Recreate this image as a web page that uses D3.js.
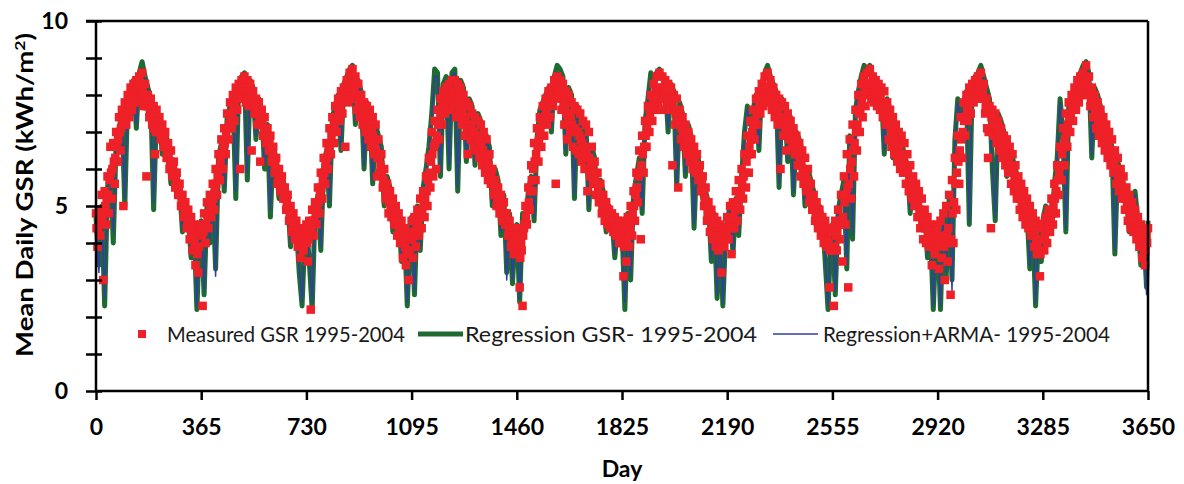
<!DOCTYPE html>
<html>
<head>
<meta charset="utf-8">
<script src="https://cdn.jsdelivr.net/npm/d3@7"></script>
<style>
  body { margin: 0; background: #fff; }
  text { font-family: Lato, "Open Sans", sans-serif; }
</style>
</head>
<body>
<div id="chart"></div>
<script>
// Measured GSR, one row per year, one value every 5 days (doy 0..360); last row also holds day 3650
const measuredGSR = [
  [4.8,3.9,4.9,4.2,5.3,3.0,5.4,4.5,5.8,4.8, 6.6,5.2,6.7,5.6,7.0,6.2,7.4,6.5,7.6,5.0, 7.8,7.2,8.0,7.4,8.2,7.6,8.3,7.8,8.4,7.9, 8.5,8.0,8.6,7.7,8.3,5.8,8.0,7.4,7.9,7.2, 7.7,6.4,7.6,7.0,7.4,6.8,7.2,6.6,7.0,6.3, 6.7,6.0,6.5,5.8,6.2,5.5,5.9,5.3,5.6,5.0, 5.3,4.7,5.1,4.4,4.9,4.1,4.7,3.8,4.5,3.4, 4.3,3.2,4.4],
  [4.5,2.3,4.8,4.0,5.1,4.4,5.3,4.7,5.6,4.9, 6.0,5.3,6.4,5.7,6.8,6.0,7.1,6.4,7.5,6.8, 7.8,7.1,8.0,7.3,8.2,7.6,8.3,6.0,8.4,7.9, 8.5,7.8,8.4,7.7,8.3,6.5,8.1,7.5,7.9,7.2, 7.8,6.2,7.6,6.9,7.4,6.7,7.1,6.5,6.9,6.2, 6.6,5.9,6.3,5.6,6.0,5.4,5.8,5.2,5.5,4.9, 5.3,4.6,5.0,4.3,4.8,4.1,4.6,3.9,4.4,3.6, 4.2,3.8,4.3],
  [4.5,3.5,4.6,2.2,4.9,4.2,5.1,4.5,5.5,4.8, 5.9,5.2,6.3,5.6,6.7,6.0,7.1,6.4,7.4,6.7, 7.7,7.0,7.9,7.3,8.1,7.5,8.2,6.6,8.4,7.8, 8.6,8.0,8.7,7.9,8.5,7.6,8.3,7.4,8.0,7.2, 7.8,7.0,7.7,6.8,7.6,6.6,7.4,6.4,7.2,5.8, 6.8,5.9,6.4,5.5,6.0,5.2,5.6,4.8,5.4,4.7, 5.2,4.5,5.0,4.2,4.8,4.0,4.6,3.6,4.4,3.4, 4.2,3.0,4.3],
  [4.6,3.6,4.7,3.9,4.9,4.2,5.2,4.4,5.4,4.7, 5.8,5.0,6.3,5.5,7.0,5.8,7.3,6.0,7.6,6.8, 7.9,7.2,8.1,7.5,8.2,7.7,8.3,7.6,8.4,7.8, 8.4,7.4,8.3,7.6,8.2,7.2,8.0,6.9,7.8,6.4, 7.7,6.8,7.5,6.6,7.4,6.5,7.3,6.3,7.2,6.1, 7.0,5.9,6.8,5.7,6.4,5.6,6.0,5.3,5.7,5.0, 5.5,4.8,5.3,4.6,5.1,4.5,4.8,4.2,4.6,3.9, 4.4,3.7,4.3],
  [4.4,3.7,2.8,4.0,2.3,4.4,5.0,4.5,5.5,4.9, 6.1,5.4,6.7,5.7,7.1,6.2,7.4,6.6,7.7,6.9, 7.9,7.2,8.1,7.4,8.2,7.7,8.4,5.6,8.5,7.9, 8.4,7.6,8.3,7.2,8.1,6.8,8.0,7.0,7.8,6.6, 7.7,6.5,7.6,6.4,7.5,6.2,7.3,6.0,7.2,5.4, 7.0,5.8,6.6,5.6,6.2,5.3,5.9,5.1,5.6,4.8, 5.3,4.6,5.1,4.5,4.9,4.4,4.8,4.3,4.7,4.2, 4.6,4.0,4.5],
  [4.6,3.1,4.5,3.5,4.7,3.9,5.0,4.2,5.4,4.6, 5.9,5.1,6.5,4.1,6.9,5.9,7.3,6.6,7.7,7.0, 8.0,7.3,8.3,7.6,8.5,7.8,8.6,7.6,8.5,7.9, 8.4,7.8,8.3,7.6,8.2,6.1,8.0,7.2,7.9,5.5, 7.6,6.8,7.4,6.6,7.2,6.4,7.0,6.2,6.8,6.0, 6.6,5.9,6.4,5.7,6.1,5.4,5.8,5.0,5.5,4.6, 5.1,4.3,4.9,4.1,4.7,3.9,4.6,3.8,4.5,3.2, 4.4,3.9,4.4],
  [4.7,4.1,5.0,3.7,5.1,4.4,5.4,4.6,5.7,4.9, 6.0,5.2,6.4,5.5,6.9,5.9,7.3,6.4,7.6,6.8, 7.9,7.2,8.1,7.5,8.3,7.7,8.5,7.9,8.6,7.8, 8.4,7.6,8.2,7.4,8.0,7.2,7.9,6.0,7.8,6.9, 7.7,6.5,7.5,6.8,7.3,6.6,7.1,6.4,6.9,6.1, 6.7,5.8,6.5,5.6,6.3,5.4,6.0,5.1,5.6,4.9, 5.3,4.6,5.1,4.4,4.9,4.2,4.7,4.0,4.6,3.9, 4.4,2.8,4.3],
  [4.4,2.3,4.6,3.8,4.9,4.1,5.3,3.5,5.8,4.5, 6.4,2.8,6.8,5.2,7.2,5.8,7.6,6.5,8.0,7.0, 8.3,7.4,8.5,7.7,8.6,8.0,8.7,7.9,8.5,7.8, 8.4,7.7,8.3,7.6,8.2,7.4,8.1,7.2,7.8,6.8, 7.6,6.6,7.4,6.4,7.2,6.2,7.0,6.0,6.9,5.9, 6.7,5.6,6.4,5.4,6.1,5.2,5.8,5.0,5.6,4.7, 5.4,4.4,5.2,4.1,4.9,4.0,4.7,3.9,4.5,3.4, 4.4,3.7,4.3],
  [4.5,3.3,4.6,3.6,4.8,3.0,5.0,3.5,5.3,2.6, 5.7,4.0,6.3,4.9,6.9,5.6,7.4,6.3,7.8,6.9, 8.0,7.3,8.2,7.5,8.3,7.8,8.4,7.9,8.5,8.0, 8.6,7.9,8.3,7.5,7.9,6.3,7.7,4.4,7.6,6.9, 7.5,6.7,7.3,6.5,7.1,6.3,6.9,6.1,6.8,5.9, 6.6,5.6,6.4,5.4,6.1,5.2,5.8,4.9,5.6,4.7, 5.4,4.5,5.2,4.4,5.0,4.2,4.8,3.9,4.6,3.7, 4.5,3.1,4.4],
  [4.5,3.8,4.7,4.0,4.9,4.3,5.2,4.5,5.6,4.8, 6.1,5.3,6.6,5.7,7.1,6.1,7.5,6.6,7.8,7.0, 8.0,7.3,8.2,7.6,8.4,7.8,8.5,8.0,8.6,8.1, 8.8,8.0,8.5,7.7,8.2,7.4,8.0,7.1,7.8,6.9, 7.6,6.7,7.4,6.5,7.2,6.3,7.0,6.1,6.8,5.9, 6.5,5.6,6.3,5.4,6.0,5.2,5.8,4.9,5.5,4.6, 5.3,4.4,5.1,4.3,4.9,4.1,4.7,3.9,4.5,3.6, 4.3,3.4,4.2,4.4]
];

// Measured GSR, days in between (doy 2..362, every 5 days)
const measuredGSRmid = [
  [4.4,4.4,4.6,4.8,4.6,4.9,5.0,5.2,5.3,5.7, 5.9,6.0,6.2,6.3,6.6,6.8,7.0,7.1,7.2,7.4, 7.5,7.6,7.7,7.8,7.9,8.0,8.1,8.1,8.2,8.2, 8.3,8.3,8.2,8.0,7.9,7.7,7.7,7.6,7.6,7.4, 7.1,7.0,7.3,7.2,7.1,7.0,6.9,6.8,6.6,6.5, 6.4,6.2,6.1,6.0,5.9,5.7,5.6,5.4,5.3,5.1, 5.0,4.9,4.8,4.6,4.5,4.4,4.2,4.1,4.0,3.8, 3.7,3.9,4.4],
  [4.2,4.3,4.4,4.5,4.7,4.8,5.0,5.1,5.2,5.4, 5.6,5.8,6.0,6.2,6.4,6.6,6.7,6.9,7.1,7.2, 7.4,7.5,7.6,7.8,7.9,8.0,8.1,8.1,8.2,8.2, 8.1,8.1,8.0,8.0,7.9,7.8,7.8,7.7,7.5,7.5, 7.3,7.2,7.2,7.1,7.0,6.9,6.8,6.7,6.5,6.4, 6.2,6.1,5.9,5.8,5.7,5.6,5.5,5.3,5.2,5.1, 4.9,4.8,4.6,4.5,4.4,4.3,4.2,4.1,4.0,3.9, 4.0,4.0,4.2],
  [4.0,4.1,4.3,4.4,4.6,4.6,4.8,4.9,5.1,5.3, 5.5,5.7,5.9,6.1,6.3,6.5,6.7,6.9,7.0,7.2, 7.3,7.4,7.6,7.7,7.8,7.9,8.0,8.1,8.1,8.2, 8.3,8.3,8.3,8.2,8.0,7.9,7.8,7.7,7.6,7.5, 7.4,7.3,7.2,7.2,7.1,7.0,6.9,6.7,6.5,6.3, 6.3,6.1,5.9,5.7,5.6,5.4,5.2,5.1,5.0,4.9, 4.8,4.7,4.6,4.5,4.4,4.3,4.1,4.0,3.9,3.8, 3.7,3.8,4.1],
  [4.1,4.2,4.3,4.4,4.6,4.7,4.8,4.9,5.1,5.2, 5.4,5.7,5.9,6.2,6.4,6.6,6.7,6.9,7.2,7.3, 7.5,7.7,7.8,7.9,8.0,8.0,8.0,8.0,8.1,8.1, 7.9,7.8,8.0,7.9,7.7,7.6,7.4,7.3,7.1,7.0, 7.2,7.1,7.0,7.0,6.9,6.8,6.8,6.7,6.6,6.5, 6.4,6.3,6.2,6.1,6.0,5.8,5.6,5.5,5.3,5.2, 5.1,5.0,4.9,4.8,4.8,4.6,4.5,4.4,4.2,4.1, 4.0,4.0,4.2],
  [4.0,3.9,3.6,3.8,4.2,4.5,4.7,4.9,5.1,5.4, 5.7,6.0,6.2,6.4,6.6,6.8,7.0,7.2,7.3,7.4, 7.5,7.7,7.8,7.9,8.0,8.0,8.1,8.1,8.2,8.2, 8.1,8.0,7.8,7.7,7.5,7.4,7.5,7.4,7.2,7.1, 7.1,7.0,7.0,6.9,6.8,6.7,6.6,6.5,6.4,6.3, 6.3,6.2,6.0,5.9,5.7,5.6,5.5,5.3,5.2,5.0, 4.9,4.8,4.8,4.7,4.6,4.6,4.5,4.5,4.4,4.4, 4.3,4.2,4.3],
  [4.0,3.9,4.0,4.1,4.3,4.4,4.6,4.8,5.0,5.3, 5.5,5.8,5.9,6.1,6.4,6.6,6.9,7.1,7.3,7.5, 7.6,7.8,7.9,8.1,8.1,8.2,8.1,8.0,8.2,8.1, 8.1,8.0,7.9,7.9,7.8,7.6,7.6,7.5,7.4,7.2, 7.2,7.1,7.0,6.9,6.8,6.7,6.6,6.5,6.4,6.3, 6.2,6.1,6.0,5.9,5.8,5.6,5.4,5.2,5.0,4.8, 4.7,4.6,4.5,4.4,4.3,4.2,4.2,4.1,4.0,3.9, 4.1,4.1,4.3],
  [4.4,4.5,4.4,4.4,4.7,4.9,5.0,5.1,5.3,5.4, 5.6,5.8,5.9,6.2,6.4,6.6,6.8,7.0,7.2,7.3, 7.5,7.6,7.8,7.9,8.0,8.1,8.2,8.2,8.2,8.1, 8.0,7.9,7.8,7.7,7.6,7.5,7.4,7.3,7.3,7.3, 7.1,7.0,7.1,7.0,6.9,6.8,6.7,6.6,6.5,6.4, 6.2,6.1,6.0,5.9,5.8,5.7,5.5,5.3,5.2,5.1, 4.9,4.8,4.7,4.6,4.5,4.4,4.3,4.3,4.2,4.1, 4.0,3.8,4.3],
  [3.8,3.9,4.2,4.3,4.5,4.6,4.5,4.7,5.1,5.3, 5.5,5.6,6.0,6.2,6.5,6.7,7.0,7.2,7.5,7.6, 7.8,8.0,8.1,8.1,8.3,8.3,8.3,8.2,8.1,8.1, 8.0,8.0,7.9,7.9,7.8,7.7,7.6,7.5,7.3,7.2, 7.1,7.0,6.9,6.8,6.7,6.6,6.5,6.4,6.4,6.3, 6.1,6.0,5.9,5.7,5.6,5.5,5.4,5.3,5.1,5.0, 4.9,4.8,4.6,4.5,4.4,4.4,4.3,4.2,4.0,3.9, 4.0,4.0,4.2],
  [3.9,4.0,4.1,4.2,3.9,4.0,4.2,4.4,4.0,4.1, 4.8,5.1,5.6,5.9,6.2,6.5,6.8,7.0,7.3,7.4, 7.6,7.7,7.8,7.9,8.0,8.1,8.1,8.2,8.2,8.3, 8.2,8.1,7.9,7.7,7.1,7.0,7.6,7.4,7.2,7.2, 7.1,7.0,6.9,6.8,6.7,6.6,6.5,6.4,6.3,6.2, 6.1,6.0,5.9,5.8,5.6,5.5,5.3,5.2,5.1,5.0, 4.9,4.8,4.8,4.7,4.6,4.5,4.3,4.2,4.1,4.0, 3.8,3.7,4.1],
  [4.1,4.2,4.3,4.4,4.6,4.7,4.8,5.0,5.2,5.4, 5.7,5.9,6.1,6.4,6.6,6.8,7.0,7.2,7.4,7.5, 7.6,7.7,7.9,8.0,8.1,8.1,8.2,8.3,8.3,8.4, 8.4,8.2,8.1,7.9,7.8,7.7,7.5,7.4,7.3,7.2, 7.1,7.0,6.9,6.8,6.7,6.6,6.5,6.4,6.3,6.2, 6.0,5.9,5.8,5.7,5.6,5.5,5.3,5.2,5.0,4.9, 4.8,4.7,4.6,4.5,4.4,4.3,4.2,4.1,4.0,3.9, 3.8,3.8,4.0]
];

// Regression GSR, one row per year, one value every 10 days (doy 0..360); last row ends at day 3650
const regressionGSR = [
  [4.7,3.4,5.0,2.3,5.5,6.0,4.0,6.8,7.1,7.5, 5.0,8.0,8.2,8.4,7.1,8.6,8.9,8.5,8.2,7.9, 4.9,7.6,7.4,6.4,7.0,6.7,5.6,6.1,5.8,5.5, 4.3,5.1,4.8,3.6,4.5,2.2,4.3],
  [4.6,2.6,5.0,4.0,5.4,3.3,6.3,6.7,5.4,7.4, 7.7,8.0,5.2,8.3,8.5,8.6,5.7,8.4,8.2,6.8, 7.9,7.6,6.0,7.2,4.7,6.6,6.3,5.2,5.8,5.5, 5.2,3.9,4.8,4.5,3.2,2.3,4.3],
  [4.5,3.5,2.2,4.9,5.3,3.8,6.1,6.5,5.0,7.4, 7.7,8.0,6.5,8.3,8.5,8.7,8.8,7.2,8.4,8.1, 6.0,7.8,7.6,5.6,7.2,6.9,6.6,5.0,5.8,5.5, 4.3,5.0,4.8,3.5,4.4,2.3,4.3],
  [4.7,2.6,5.0,3.8,5.5,6.0,6.6,7.5,8.7,8.6, 5.8,8.3,8.5,6.0,8.6,8.7,5.4,8.4,8.2,6.2, 7.9,7.7,6.1,7.5,7.3,6.0,6.9,6.6,5.0,6.0, 5.7,4.2,5.3,3.2,4.8,2.9,4.4],
  [4.5,2.4,4.8,4.5,5.4,5.8,4.6,6.8,7.6,7.8, 8.0,8.2,7.0,8.5,8.8,8.7,8.5,6.4,8.2,8.0, 5.2,7.7,7.5,6.2,7.2,4.9,6.6,6.3,5.1,5.7, 5.4,4.3,5.0,4.7,3.6,4.5,4.2],
  [4.4,2.2,4.8,3.0,5.3,5.8,6.3,4.8,7.3,7.9, 8.6,8.4,8.6,8.7,8.5,8.4,7.0,8.3,8.1,5.5, 7.8,7.5,5.8,7.2,6.9,4.4,6.4,6.1,5.2,5.4, 5.1,3.5,4.8,2.5,4.5,2.3,4.4],
  [4.6,5.0,3.7,5.2,4.2,5.8,7.0,7.7,7.2,7.6, 8.0,6.5,8.3,8.6,8.8,8.5,8.3,8.1,5.5,7.9, 7.7,6.2,7.4,5.3,7.0,6.8,6.5,5.0,6.0,5.7, 5.4,4.4,5.0,4.7,3.5,2.2,4.3],
  [4.5,2.6,4.9,5.3,5.7,3.3,6.9,4.1,7.6,8.1, 8.5,8.8,8.7,8.8,8.5,8.4,8.3,8.1,6.4,7.9, 7.6,6.3,7.2,6.9,6.7,6.4,6.1,4.8,5.8,5.5, 5.2,4.4,4.9,3.6,4.4,2.2,4.2],
  [4.5,2.2,4.8,3.1,5.2,3.0,6.8,7.9,7.5,7.8, 8.1,4.5,8.3,8.5,8.6,8.8,8.5,8.2,7.9,6.0, 4.6,7.5,7.3,7.0,5.8,6.6,6.3,6.0,5.7,5.4, 5.1,4.9,3.3,4.6,2.3,4.3,3.5],
  [4.6,5.0,4.9,4.3,5.6,6.3,7.9,7.0,4.3,7.7, 8.0,8.2,8.4,8.6,8.8,8.9,8.6,6.3,8.2,8.0, 7.7,7.4,7.2,6.9,6.6,3.7,6.2,5.9,5.6,5.3, 4.3,5.0,5.4,4.6,3.4,4.3,2.8,4.6]
];

// Regression + ARMA, same sampling as regressionGSR
const regressionARMA = [
  [4.6,3.2,4.9,2.5,5.4,5.9,4.3,6.7,7.1,7.4, 5.2,7.9,8.1,8.3,7.2,8.5,8.7,8.4,8.1,7.8, 5.1,7.5,7.3,6.5,6.9,6.6,5.7,6.0,5.7,5.4, 4.4,5.0,4.7,3.7,4.4,2.3,4.2],
  [4.5,2.7,4.9,4.1,5.3,3.1,6.2,6.6,5.5,7.3, 7.6,7.9,5.4,8.2,8.4,8.5,5.9,8.3,8.1,6.9, 7.8,7.5,6.1,7.1,4.9,6.5,6.2,5.3,5.7,5.4, 5.1,4.0,4.7,4.4,3.3,2.4,4.2],
  [4.4,3.6,2.4,4.8,5.2,3.9,6.0,6.4,5.1,7.3, 7.6,7.9,6.6,8.2,8.4,8.6,8.7,7.3,8.3,8.0, 6.1,7.7,7.5,5.7,7.1,6.8,6.5,5.1,5.7,5.4, 4.4,4.9,4.7,3.6,4.3,2.4,4.2],
  [4.6,2.7,4.9,3.9,5.4,5.9,6.5,7.4,8.5,8.5, 5.9,8.2,8.4,6.1,8.5,8.6,5.5,8.3,8.1,6.3, 7.8,7.6,6.2,7.4,7.2,6.1,6.8,6.5,5.1,5.9, 5.6,4.3,5.2,3.0,4.7,3.0,4.3],
  [4.4,2.5,4.7,4.6,5.3,5.7,4.7,6.7,7.5,7.7, 7.9,8.1,7.1,8.4,8.6,8.6,8.4,6.5,8.1,7.9, 5.3,7.6,7.4,6.3,7.1,5.0,6.5,6.2,5.2,5.6, 5.3,4.4,4.9,4.6,3.7,4.4,4.1],
  [4.3,2.4,4.7,3.1,5.2,5.7,6.2,4.9,7.2,7.8, 8.4,8.3,8.5,8.6,8.4,8.3,7.1,8.2,8.0,5.6, 7.7,7.4,5.9,7.1,6.8,4.5,6.3,6.0,5.3,5.3, 5.0,3.6,4.7,2.6,4.4,2.4,4.3],
  [4.5,4.9,3.8,5.1,4.3,5.7,6.9,7.6,7.1,7.5, 7.9,6.6,8.2,8.5,8.6,8.4,8.2,8.0,5.6,7.8, 7.6,6.3,7.3,5.4,6.9,6.7,6.4,5.1,5.9,5.6, 5.3,4.5,4.9,4.6,3.6,2.3,4.2],
  [4.4,2.7,4.8,5.2,5.6,3.4,6.8,4.2,7.5,8.0, 8.4,8.6,8.6,8.7,8.4,8.3,8.2,8.0,6.5,7.8, 7.5,6.4,7.1,6.8,6.6,6.3,6.0,4.9,5.7,5.4, 5.1,4.5,4.8,3.7,4.3,2.3,4.1],
  [4.4,2.3,4.7,3.2,5.1,2.7,6.7,7.8,7.4,7.7, 8.0,4.6,8.2,8.4,8.5,8.7,8.4,8.1,7.8,6.1, 4.7,7.4,7.2,6.9,5.9,6.5,6.2,5.9,5.6,5.3, 5.0,4.8,3.4,4.5,2.4,4.2,3.6],
  [4.5,4.9,4.8,4.4,5.5,6.2,7.8,6.9,4.4,7.6, 7.9,8.1,8.3,8.5,8.6,8.8,8.5,6.4,8.1,7.9, 7.6,7.3,7.1,6.8,6.5,3.8,6.1,5.8,5.5,5.2, 4.4,4.9,5.3,4.5,3.5,4.2,2.6,4.4]
];

const xTicks = [0, 365, 730, 1095, 1460, 1825, 2190, 2555, 2920, 3285, 3650];
const yTicks = [0, 1, 2, 3, 4, 5, 6, 7, 8, 9, 10];
const yLabels = [0, 5, 10];
const seriesNames = ["Measured GSR 1995-2004", "Regression GSR- 1995-2004", "Regression+ARMA- 1995-2004"];

const chartW = 1184, chartH = 484;
const plotL = 96, plotR = 1148, plotT = 21, plotB = 391;
const red = "#ee2028", green = "#1e6b31", blue = "#2f3f9f";

// day of each value: year offset + step inside the year (+ offset)
const toPoints = (rows, step, offset) => rows.flatMap((row, yr) =>
  row.map((v, k) => ({day: Math.min(365 * yr + step * k + offset, 3650), value: v})));

const measured = toPoints(measuredGSR, 5, 0).concat(toPoints(measuredGSRmid, 5, 2));
const regression = toPoints(regressionGSR, 10, 0);
const arma = toPoints(regressionARMA, 10, 0);

const svg = d3.select("#chart")
  .append("svg")
  .attr("width", chartW)
  .attr("height", chartH)
  .style("background", "#fff");

const x = d3.scaleLinear().domain([0, 3650]).range([plotL, plotR]);
const y = d3.scaleLinear().domain([0, 10]).range([plotB, plotT]);

const line = d3.line()
  .x(d => x(d.day))
  .y(d => y(d.value));

svg.append("path")
  .datum(regression)
  .attr("d", line)
  .attr("fill", "none")
  .attr("stroke", green)
  .attr("stroke-width", 5)
  .attr("stroke-linejoin", "round");

svg.append("path")
  .datum(arma)
  .attr("d", line)
  .attr("fill", "none")
  .attr("stroke", blue)
  .attr("stroke-width", 1.5)
  .attr("stroke-linejoin", "round");

const sq = 8.5;
svg.append("g")
  .selectAll("rect")
  .data(measured)
  .enter()
  .append("rect")
  .attr("x", d => x(d.day) - sq / 2)
  .attr("y", d => y(d.value) - sq / 2)
  .attr("width", sq)
  .attr("height", sq)
  .attr("fill", red);

// Frame
const frame = svg.append("g").attr("stroke", "#000").attr("stroke-width", 2.5);
frame.append("line").attr("x1", plotL).attr("x2", plotL).attr("y1", plotT).attr("y2", plotB);
frame.append("line").attr("x1", plotL).attr("x2", plotR).attr("y1", plotB).attr("y2", plotB);
frame.append("line").attr("x1", plotL - 10).attr("x2", plotR).attr("y1", plotT).attr("y2", plotT);
frame.append("line").attr("x1", plotR).attr("x2", plotR).attr("y1", plotT).attr("y2", plotB);

// Y axis, ticks crossing the axis line
const yAxis = svg.append("g")
  .attr("transform", "translate(" + (plotL + 6) + ",0)")
  .call(d3.axisLeft(y)
    .tickValues(yTicks)
    .tickSize(16)
    .tickPadding(18)
    .tickFormat(d => yLabels.includes(d) ? d : ""));
yAxis.select(".domain").remove();
yAxis.selectAll("line").attr("stroke", "#000").attr("stroke-width", 2.5);
yAxis.selectAll("text")
  .attr("fill", "#000")
  .style("font-size", "23px")
  .style("font-weight", "bold");

// X axis
const xAxis = svg.append("g")
  .attr("transform", "translate(0," + plotB + ")")
  .call(d3.axisBottom(x)
    .tickValues(xTicks)
    .tickSize(9)
    .tickPadding(19)
    .tickFormat(d3.format("d")));
xAxis.select(".domain").remove();
xAxis.selectAll("line").attr("stroke", "#000").attr("stroke-width", 2.5);
xAxis.selectAll("text")
  .attr("fill", "#000")
  .style("font-size", "23px")
  .style("font-weight", "bold");

// Axis titles
svg.append("text")
  .attr("x", (plotL + plotR) / 2)
  .attr("y", 477)
  .attr("text-anchor", "middle")
  .style("font-size", "23px")
  .style("font-weight", "bold")
  .text("Day");

const yTitle = svg.append("text")
  .attr("transform", "translate(33,195) rotate(-90)")
  .attr("text-anchor", "middle")
  .attr("textLength", 324)
  .attr("lengthAdjust", "spacingAndGlyphs")
  .style("font-size", "22px")
  .style("font-weight", "bold");
yTitle.append("tspan").text("Mean Daily GSR (kWh/m");
yTitle.append("tspan").attr("dy", -8).style("font-size", "14px").text("2");
yTitle.append("tspan").attr("dy", 8).text(")");

// Legend
const legendY = 334;
svg.append("rect")
  .attr("x", 142 - 4).attr("y", legendY - 4)
  .attr("width", 8).attr("height", 8)
  .attr("fill", red);
svg.append("line")
  .attr("x1", 418).attr("x2", 463).attr("y1", legendY).attr("y2", legendY)
  .attr("stroke", green).attr("stroke-width", 5);
svg.append("line")
  .attr("x1", 773).attr("x2", 818).attr("y1", legendY).attr("y2", legendY)
  .attr("stroke", blue).attr("stroke-width", 1.5);

const legendText = [
  {x: 167, w: 238},
  {x: 465, w: 292},
  {x: 823, w: 287}
];
svg.selectAll("legendtext")
  .data(seriesNames)
  .enter()
  .append("text")
  .attr("x", (d, i) => legendText[i].x)
  .attr("y", legendY + 8)
  .attr("textLength", (d, i) => legendText[i].w)
  .attr("lengthAdjust", "spacingAndGlyphs")
  .style("font-size", "22px")
  .attr("fill", "#1a1a1a")
  .text(d => d);
</script>
</body>
</html>
